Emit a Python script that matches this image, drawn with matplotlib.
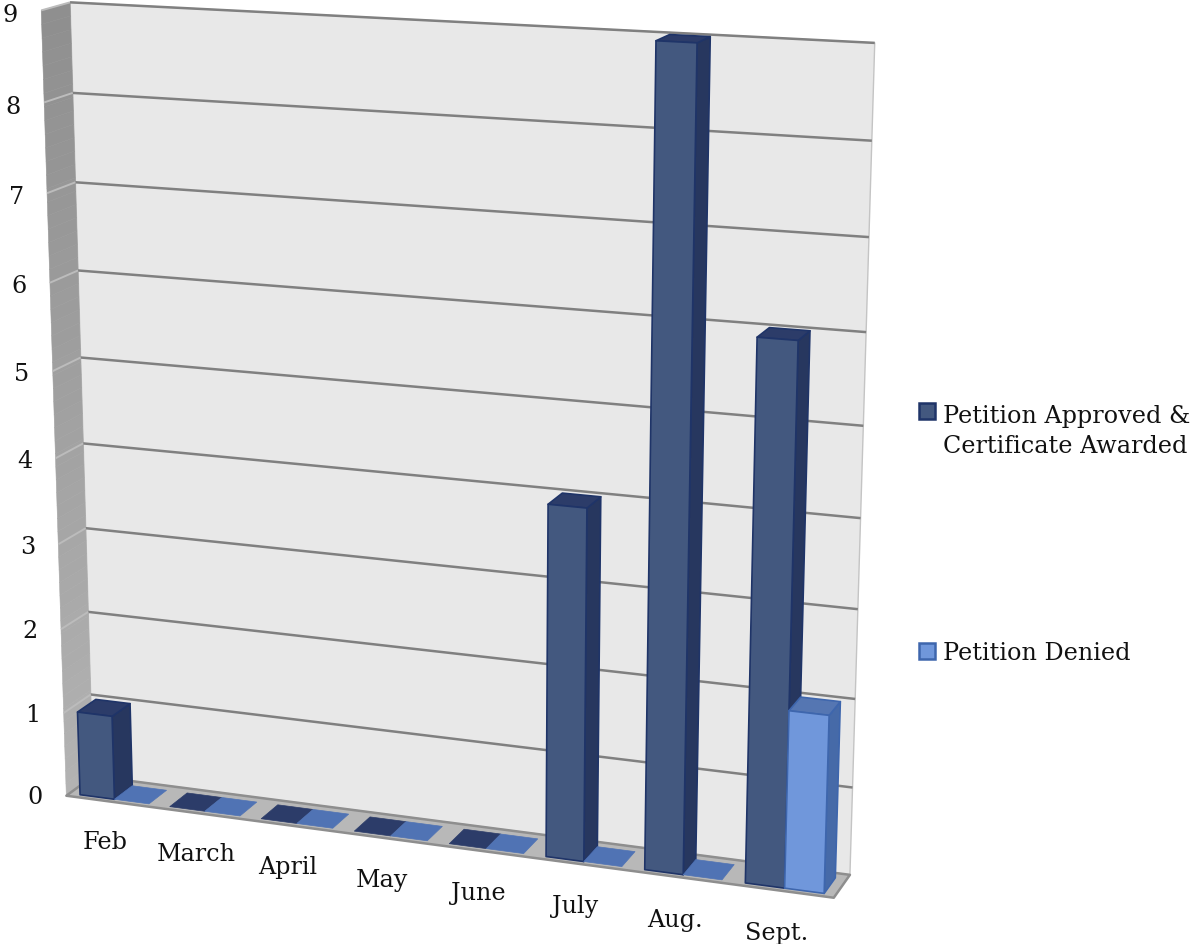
import numpy as np
import matplotlib
matplotlib.use("Agg")
import matplotlib.pyplot as plt
from matplotlib.patches import Polygon, Rectangle

# ---- data ----
categories = ["Feb", "March", "April", "May", "June", "July", "Aug.", "Sept."]
approved = [1, 0, 0, 0, 0, 4, 9, 6]
denied = [0, 0, 0, 0, 0, 0, 0, 2]
series_names = ["Petition Approved &\nCertificate Awarded", "Petition Denied"]
value_ticks = [0, 1, 2, 3, 4, 5, 6, 7, 8, 9]

W, H = 1191, 945
fig = plt.figure(figsize=(W / 100, H / 100), dpi=100)
ax = fig.add_axes([0, 0, 1, 1])
ax.set_xlim(0, W)
ax.set_ylim(H, 0)
ax.axis("off")

# ---- camera: projective map (category, depth, value) -> page, fitted to the box corners ----
n = len(categories)
vmax = value_ticks[-1]
calib = [
    ((0, 1, vmax), (70, 3)), ((n, 1, vmax), (875, 44)),
    ((0, 1, 0), (94, 779)), ((n, 1, 0), (849, 875)),
    ((0, 0, 0), (66, 797)), ((n, 0, 0), (834, 900)),
    ((0, 0, vmax), (41, 12)),
    ((0, 1, 1), (90, 695)), ((n, 1, 1), (853, 788)), ((0, 0, 1), (64, 712)),
]
A, b = [], []
for (x, d, z), (u, v) in calib:
    A.append([x, d, z, 1, 0, 0, 0, 0, -u * x, -u * d, -u * z]); b.append(u)
    A.append([0, 0, 0, 0, x, d, z, 1, -v * x, -v * d, -v * z]); b.append(v)
sol = np.linalg.lstsq(np.array(A, float), np.array(b, float), rcond=None)[0]
P = np.append(sol, 1.0).reshape(3, 4)


def proj(x, d, z):
    p = P @ np.array([x, d, z, 1.0])
    return p[0] / p[2], p[1] / p[2]


def face(pts, fc, ec=None, lw=0.0, z=1):
    ax.add_patch(Polygon([proj(*q) for q in pts], closed=True, facecolor=fc,
                         edgecolor=ec if ec else fc, linewidth=lw, zorder=z,
                         joinstyle="round"))


# ---- walls and floor ----
face([(0, 1, 0), (n, 1, 0), (n, 1, vmax), (0, 1, vmax)], "#e8e8e8", "#c4c4c4", 1.0, 1)
for k in range(60):
    z0, z1 = vmax * k / 60, vmax * (k + 1) / 60
    g = 0.70 - 0.14 * (k / 59)
    face([(0, 0, z0), (0, 1, z0), (0, 1, z1), (0, 0, z1)], (g, g, g), (g, g, g), 0.4, 1)
face([(0, 0, 0), (n, 0, 0), (n, 1, 0), (0, 1, 0)], "#b8b8b8", "#8e8e8e", 1.8, 1)

# ---- gridlines ----
for v in value_ticks:
    if v == 0:
        continue
    pts = [proj(0, 0, v), proj(0, 1, v), proj(n, 1, v)]
    ax.plot([pts[1][0], pts[2][0]], [pts[1][1], pts[2][1]], color="#808080", lw=1.8,
            solid_capstyle="butt", zorder=2)
    ax.plot([pts[0][0], pts[1][0]], [pts[0][1], pts[1][1]], color="#bcbcbc", lw=1.4,
            solid_capstyle="butt", zorder=2)

# ---- bars ----
margin, width, d0, d1 = 0.118, 0.385, 0.12, 0.80
styles = [
    dict(front="#43587f", side="#27375f", top="#2c3c69", edge="#1f3468", flat="#2c3c69"),
    dict(front="#7097db", side="#466aa8", top="#5576b2", edge="#3e66ad", flat="#5073b4"),
]
zo = 3
for i in range(n):
    for s, vals in enumerate([approved, denied]):
        st = styles[s]
        x0 = i + margin + s * width
        x1 = x0 + width
        h = vals[i]
        if h == 0:
            face([(x0, d0, 0), (x1, d0, 0), (x1, d1, 0), (x0, d1, 0)], st["flat"], st["flat"], 0.5, zo)
        else:
            face([(x1, d0, 0), (x1, d1, 0), (x1, d1, h), (x1, d0, h)], st["side"], st["edge"], 1.2, zo)
            face([(x0, d0, h), (x1, d0, h), (x1, d1, h), (x0, d1, h)], st["top"], st["edge"], 1.2, zo)
            face([(x0, d0, 0), (x1, d0, 0), (x1, d0, h), (x0, d0, h)], st["front"], st["edge"], 1.2, zo)
        zo += 1

# ---- text ----
font = dict(family="DejaVu Serif", color="#111111", fontsize=17.2)
for v in value_ticks:
    x, y = proj(0, 0, v)
    ax.text(x - 31, y + 1 + 3 * v / vmax, str(v), ha="center", va="center", **font)
for i, c in enumerate(categories):
    x, y = proj(i + 0.5, 0, 0)
    ax.text(x - 5.5, y + 40 + i * 0.3, c, ha="center", va="center", **font)

# ---- legend ----
ax.add_patch(Rectangle((919, 404), 16, 16, facecolor=styles[0]["front"], edgecolor=styles[0]["edge"], lw=1.8, zorder=5))
ax.add_patch(Rectangle((919, 644), 16, 16, facecolor=styles[1]["front"], edgecolor=styles[1]["edge"], lw=1.8, zorder=5))
ax.text(943, 453, series_names[0], ha="left", va="baseline", linespacing=1.39, **font)
ax.text(943, 660, series_names[1], ha="left", va="baseline", **font)

fig.savefig("out.png", dpi=100, facecolor="white")
